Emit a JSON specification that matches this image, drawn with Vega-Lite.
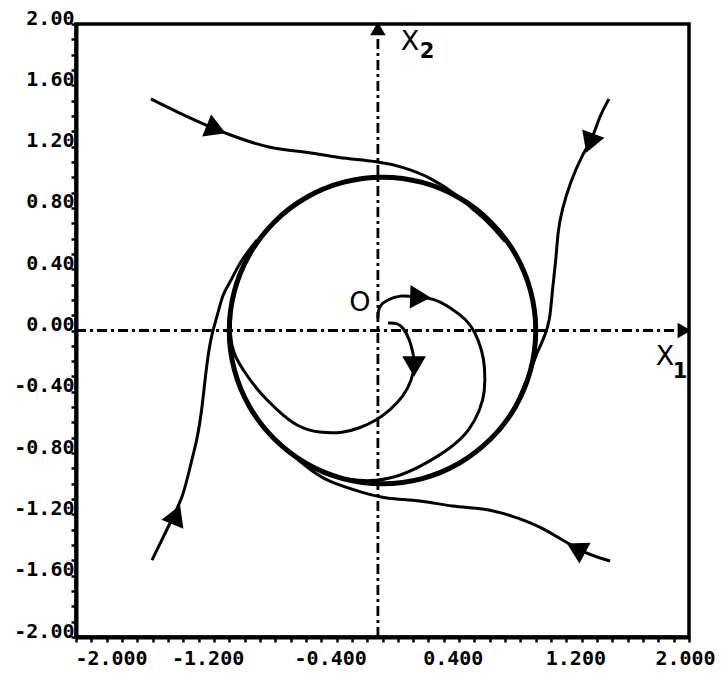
{
  "$schema": "https://vega.github.io/schema/vega-lite/v6.json",
  "autosize": {"type": "none"},
  "width": 613,
  "height": 613,
  "padding": {"left": 76, "top": 24, "right": 32, "bottom": 36},
  "background": "white",
  "config": {
    "view": {"stroke": "black", "strokeWidth": 3.5},
    "axis": {
      "grid": false,
      "domainColor": "black",
      "domainWidth": 4,
      "tickColor": "black",
      "tickWidth": 2.5,
      "tickSize": 5,
      "labelFont": "DejaVu Sans Mono",
      "labelFontWeight": "bold",
      "labelFontSize": 20,
      "labelColor": "black",
      "labelOverlap": false,
      "labelFlush": false,
      "labelBound": false,
      "title": null
    }
  },
  "datasets": {
    "traj": [
      {"t": "A", "i": 0, "x": -1.511, "y": 1.511},
      {"t": "A", "i": 1, "x": -1.341, "y": 1.426},
      {"t": "A", "i": 2, "x": -1.126, "y": 1.328},
      {"t": "A", "i": 3, "x": -0.995, "y": 1.276},
      {"t": "A", "i": 4, "x": -0.734, "y": 1.184},
      {"t": "A", "i": 5, "x": -0.473, "y": 1.165},
      {"t": "A", "i": 6, "x": -0.297, "y": 1.126},
      {"t": "A", "i": 7, "x": -0.036, "y": 1.106},
      {"t": "A", "i": 8, "x": 0.134, "y": 1.067},
      {"t": "A", "i": 9, "x": 0.31, "y": 1.002},
      {"t": "A", "i": 10, "x": 0.506, "y": 0.871},
      {"t": "A", "i": 11, "x": 0.571, "y": 0.806},
      {"t": "A", "i": 12, "x": 0.7, "y": 0.7},
      {"t": "A", "i": 13, "x": 0.8, "y": 0.58},
      {"t": "B", "i": 0, "x": 1.478, "y": 1.511},
      {"t": "B", "i": 1, "x": 1.419, "y": 1.406},
      {"t": "B", "i": 2, "x": 1.367, "y": 1.243},
      {"t": "B", "i": 3, "x": 1.308, "y": 1.158},
      {"t": "B", "i": 4, "x": 1.223, "y": 0.962},
      {"t": "B", "i": 5, "x": 1.171, "y": 0.786},
      {"t": "B", "i": 6, "x": 1.145, "y": 0.656},
      {"t": "B", "i": 7, "x": 1.132, "y": 0.46},
      {"t": "B", "i": 8, "x": 1.106, "y": 0.245},
      {"t": "B", "i": 9, "x": 1.093, "y": 0.069},
      {"t": "B", "i": 10, "x": 1.06, "y": -0.036},
      {"t": "B", "i": 11, "x": 1.015, "y": -0.127},
      {"t": "B", "i": 12, "x": 0.96, "y": -0.28},
      {"t": "B", "i": 13, "x": 0.87, "y": -0.49},
      {"t": "C", "i": 0, "x": 1.485, "y": -1.504},
      {"t": "C", "i": 1, "x": 1.289, "y": -1.445},
      {"t": "C", "i": 2, "x": 1.047, "y": -1.282},
      {"t": "C", "i": 3, "x": 0.832, "y": -1.204},
      {"t": "C", "i": 4, "x": 0.656, "y": -1.158},
      {"t": "C", "i": 5, "x": 0.46, "y": -1.152},
      {"t": "C", "i": 6, "x": 0.245, "y": -1.106},
      {"t": "C", "i": 7, "x": 0.029, "y": -1.1},
      {"t": "C", "i": 8, "x": -0.127, "y": -1.06},
      {"t": "C", "i": 9, "x": -0.343, "y": -0.989},
      {"t": "C", "i": 10, "x": -0.427, "y": -0.943},
      {"t": "C", "i": 11, "x": -0.58, "y": -0.82},
      {"t": "C", "i": 12, "x": -0.7, "y": -0.71},
      {"t": "D", "i": 0, "x": -1.504, "y": -1.498},
      {"t": "D", "i": 1, "x": -1.367, "y": -1.217},
      {"t": "D", "i": 2, "x": -1.302, "y": -1.086},
      {"t": "D", "i": 3, "x": -1.256, "y": -0.891},
      {"t": "D", "i": 4, "x": -1.21, "y": -0.714},
      {"t": "D", "i": 5, "x": -1.178, "y": -0.519},
      {"t": "D", "i": 6, "x": -1.145, "y": -0.193},
      {"t": "D", "i": 7, "x": -1.113, "y": -0.016},
      {"t": "D", "i": 8, "x": -1.08, "y": 0.088},
      {"t": "D", "i": 9, "x": -1.041, "y": 0.245},
      {"t": "D", "i": 10, "x": -0.995, "y": 0.31},
      {"t": "D", "i": 11, "x": -0.93, "y": 0.45},
      {"t": "D", "i": 12, "x": -0.82, "y": 0.59},
      {"t": "E", "i": 0, "x": -0.03, "y": 0.08},
      {"t": "E", "i": 1, "x": -0.029, "y": 0.121},
      {"t": "E", "i": 2, "x": -0.016, "y": 0.166},
      {"t": "E", "i": 3, "x": 0.029, "y": 0.199},
      {"t": "E", "i": 4, "x": 0.114, "y": 0.232},
      {"t": "E", "i": 5, "x": 0.225, "y": 0.219},
      {"t": "E", "i": 6, "x": 0.33, "y": 0.212},
      {"t": "E", "i": 7, "x": 0.44, "y": 0.153},
      {"t": "E", "i": 8, "x": 0.551, "y": 0.069},
      {"t": "E", "i": 9, "x": 0.604, "y": -0.01},
      {"t": "E", "i": 10, "x": 0.649, "y": -0.127},
      {"t": "E", "i": 11, "x": 0.669, "y": -0.238},
      {"t": "E", "i": 12, "x": 0.669, "y": -0.408},
      {"t": "E", "i": 13, "x": 0.636, "y": -0.519},
      {"t": "E", "i": 14, "x": 0.571, "y": -0.649},
      {"t": "E", "i": 15, "x": 0.46, "y": -0.76},
      {"t": "E", "i": 16, "x": 0.245, "y": -0.891},
      {"t": "E", "i": 17, "x": 0.095, "y": -0.956},
      {"t": "E", "i": 18, "x": -0.082, "y": -0.989},
      {"t": "E", "i": 19, "x": -0.26, "y": -0.965},
      {"t": "F", "i": 0, "x": 0.036, "y": 0.049},
      {"t": "F", "i": 1, "x": 0.095, "y": 0.049},
      {"t": "F", "i": 2, "x": 0.134, "y": 0.023},
      {"t": "F", "i": 3, "x": 0.179, "y": -0.062},
      {"t": "F", "i": 4, "x": 0.199, "y": -0.147},
      {"t": "F", "i": 5, "x": 0.212, "y": -0.212},
      {"t": "F", "i": 6, "x": 0.193, "y": -0.323},
      {"t": "F", "i": 7, "x": 0.134, "y": -0.434},
      {"t": "F", "i": 8, "x": 0.049, "y": -0.519},
      {"t": "F", "i": 9, "x": -0.036, "y": -0.584},
      {"t": "F", "i": 10, "x": -0.147, "y": -0.636},
      {"t": "F", "i": 11, "x": -0.258, "y": -0.669},
      {"t": "F", "i": 12, "x": -0.408, "y": -0.669},
      {"t": "F", "i": 13, "x": -0.558, "y": -0.63},
      {"t": "F", "i": 14, "x": -0.688, "y": -0.519},
      {"t": "F", "i": 15, "x": -0.819, "y": -0.388},
      {"t": "F", "i": 16, "x": -0.91, "y": -0.258},
      {"t": "F", "i": 17, "x": -0.976, "y": -0.147},
      {"t": "F", "i": 18, "x": -0.995, "y": -0.03},
      {"t": "F", "i": 19, "x": -0.99, "y": 0.1}
    ],
    "cycle": [
      {"i": 0, "x": 1.0, "y": 0.0},
      {"i": 1, "x": 0.966, "y": 0.259},
      {"i": 2, "x": 0.866, "y": 0.5},
      {"i": 3, "x": 0.707, "y": 0.707},
      {"i": 4, "x": 0.5, "y": 0.866},
      {"i": 5, "x": 0.259, "y": 0.966},
      {"i": 6, "x": 0.0, "y": 1.0},
      {"i": 7, "x": -0.259, "y": 0.966},
      {"i": 8, "x": -0.5, "y": 0.866},
      {"i": 9, "x": -0.707, "y": 0.707},
      {"i": 10, "x": -0.866, "y": 0.5},
      {"i": 11, "x": -0.966, "y": 0.259},
      {"i": 12, "x": -1.0, "y": 0.0},
      {"i": 13, "x": -0.966, "y": -0.259},
      {"i": 14, "x": -0.866, "y": -0.5},
      {"i": 15, "x": -0.707, "y": -0.707},
      {"i": 16, "x": -0.5, "y": -0.866},
      {"i": 17, "x": -0.259, "y": -0.966},
      {"i": 18, "x": 0.0, "y": -1.0},
      {"i": 19, "x": 0.259, "y": -0.966},
      {"i": 20, "x": 0.5, "y": -0.866},
      {"i": 21, "x": 0.707, "y": -0.707},
      {"i": 22, "x": 0.866, "y": -0.5},
      {"i": 23, "x": 0.966, "y": -0.259}
    ],
    "axes": [
      {"ax": "x1", "i": 0, "x": -2.0, "y": 0.0},
      {"ax": "x1", "i": 1, "x": 1.95, "y": 0.0},
      {"ax": "x2", "i": 0, "x": -0.03, "y": -2.0},
      {"ax": "x2", "i": 1, "x": -0.03, "y": 1.95}
    ],
    "arrows": [
      {"kind": "flow", "x": -1.106, "y": 1.321, "dir": 112},
      {"kind": "flow", "x": 1.36, "y": 1.243, "dir": 200},
      {"kind": "flow", "x": 1.282, "y": -1.432, "dir": 298},
      {"kind": "flow", "x": -1.354, "y": -1.223, "dir": 22},
      {"kind": "flow", "x": 0.225, "y": 0.219, "dir": 92},
      {"kind": "flow", "x": 0.206, "y": -0.212, "dir": 180},
      {"kind": "axis", "x": 1.955, "y": 0.0, "dir": 90},
      {"kind": "axis", "x": -0.03, "y": 1.955, "dir": 0}
    ],
    "labels": [
      {"role": "main", "x": 1.843, "y": -0.173, "text": "X"},
      {"role": "sub", "x": 1.941, "y": -0.271, "text": "1"},
      {"role": "main", "x": 0.179, "y": 1.883, "text": "X"},
      {"role": "sub", "x": 0.29, "y": 1.817, "text": "2"},
      {"role": "main", "x": -0.147, "y": 0.179, "text": "O"}
    ]
  },
  "encoding": {
    "x": {
      "field": "x",
      "type": "quantitative",
      "scale": {"domain": [-2, 2], "nice": false, "zero": false},
      "axis": {
        "values": [-2, -1.9, -1.8, -1.7, -1.6, -1.5, -1.4, -1.3, -1.2, -1.1, -1, -0.9, -0.8, -0.7, -0.6, -0.5, -0.4, -0.3, -0.2, -0.1, 0, 0.1, 0.2, 0.3, 0.4, 0.5, 0.6, 0.7, 0.8, 0.9, 1, 1.1, 1.2, 1.3, 1.4, 1.5, 1.6, 1.7, 1.8, 1.9, 2],
        "labelExpr": "indexof([-20,-12,-4,4,12,20], round(datum.value*10)) >= 0 ? ((datum.value < 0 ? '-' : '') + format(abs(datum.value), '.3f')) : ''",
        "labelPadding": 6,
        "labelOffset": {"condition": [{"test": "datum.value < -1.9", "value": 35}, {"test": "datum.value > 1.9", "value": -4}], "value": 9}
      }
    },
    "y": {
      "field": "y",
      "type": "quantitative",
      "scale": {"domain": [-2, 2], "nice": false, "zero": false},
      "axis": {
        "values": [-2, -1.9, -1.8, -1.7, -1.6, -1.5, -1.4, -1.3, -1.2, -1.1, -1, -0.9, -0.8, -0.7, -0.6, -0.5, -0.4, -0.3, -0.2, -0.1, 0, 0.1, 0.2, 0.3, 0.4, 0.5, 0.6, 0.7, 0.8, 0.9, 1, 1.1, 1.2, 1.3, 1.4, 1.5, 1.6, 1.7, 1.8, 1.9, 2],
        "labelExpr": "indexof([-20,-16,-12,-8,-4,0,4,8,12,16,20], round(datum.value*10)) >= 0 ? ((datum.value < 0 ? '-' : '') + format(abs(datum.value), '.2f')) : ''",
        "labelPadding": -3,
        "labelOffset": -6
      }
    }
  },
  "layer": [
    {
      "data": {"name": "axes"},
      "mark": {"type": "line", "color": "black", "strokeWidth": 2.8, "strokeDash": [10, 4, 3, 4]},
      "encoding": {"detail": {"field": "ax"}, "order": {"field": "i", "type": "quantitative"}}
    },
    {
      "data": {"name": "cycle"},
      "mark": {"type": "line", "color": "black", "strokeWidth": 5, "interpolate": "cardinal-closed"},
      "encoding": {"order": {"field": "i", "type": "quantitative"}}
    },
    {
      "data": {"name": "traj"},
      "mark": {"type": "line", "color": "black", "strokeWidth": 3, "interpolate": "basis"},
      "encoding": {"detail": {"field": "t"}, "order": {"field": "i", "type": "quantitative"}}
    },
    {
      "data": {"name": "arrows"},
      "transform": [{"filter": "datum.kind == 'flow'"}],
      "mark": {"type": "point", "shape": "triangle", "filled": true, "color": "black", "size": 560, "opacity": 1},
      "encoding": {"angle": {"field": "dir", "type": "quantitative", "scale": null}}
    },
    {
      "data": {"name": "arrows"},
      "transform": [{"filter": "datum.kind == 'axis'"}],
      "mark": {"type": "point", "shape": "triangle", "filled": true, "color": "black", "size": 240, "opacity": 1},
      "encoding": {"angle": {"field": "dir", "type": "quantitative", "scale": null}}
    },
    {
      "data": {"name": "labels"},
      "transform": [{"filter": "datum.role == 'main'"}],
      "mark": {"type": "text", "font": "DejaVu Sans", "fontSize": 27, "color": "black", "align": "center", "baseline": "middle"},
      "encoding": {"text": {"field": "text"}}
    },
    {
      "data": {"name": "labels"},
      "transform": [{"filter": "datum.role == 'sub'"}],
      "mark": {"type": "text", "font": "DejaVu Sans", "fontSize": 21, "fontWeight": "bold", "color": "black", "align": "center", "baseline": "middle"},
      "encoding": {"text": {"field": "text"}}
    }
  ]
}
